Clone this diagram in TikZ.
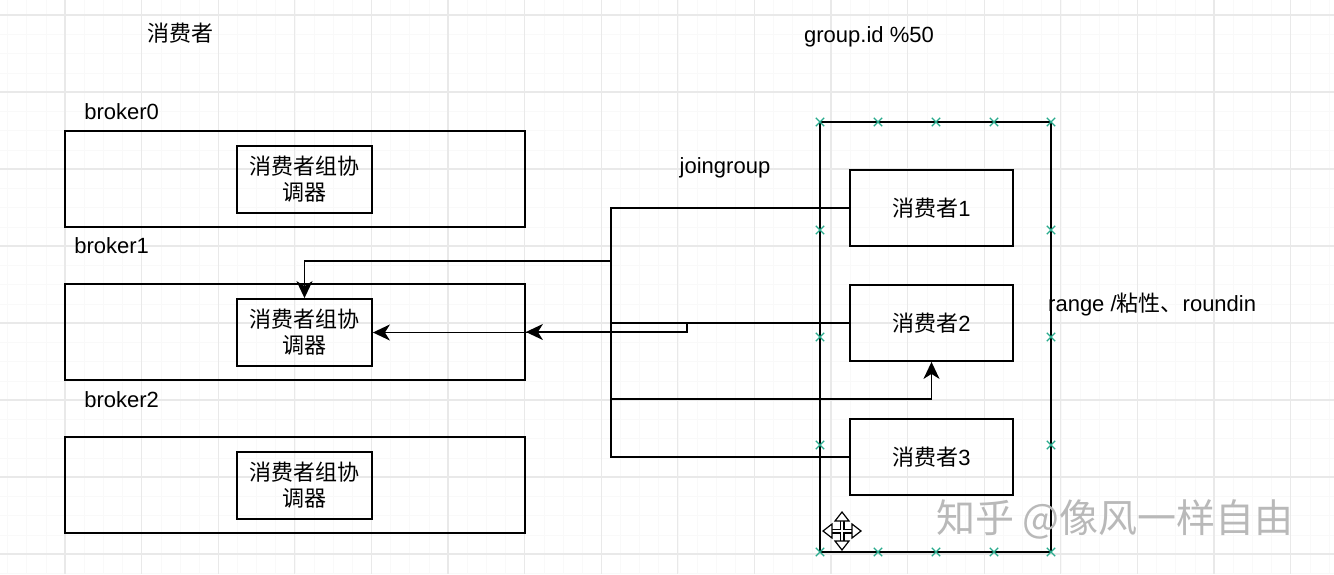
\documentclass[tikz,border=0pt]{standalone}
\usepackage{fontspec}
\setmainfont{Liberation Sans}
\newfontfamily\cjk{Noto Sans CJK SC}
\usepackage{tikz}
\usetikzlibrary{positioning,arrows.meta,shapes.misc}
\definecolor{handlegreen}{RGB}{40,170,140}

\begin{document}
\begin{tikzpicture}[x=1pt, y=-1pt, > = {Stealth[length=17pt,width=16pt,inset=5pt]},
  every node/.style={font=\fontsize{22}{26}\selectfont},
  box/.style={draw, line width=1.8pt, inner sep=0pt},
  lbl/.style={inner sep=0pt},
  wire/.style={line width=1.8pt},
  handle/.style={cross out, draw=handlegreen, line width=1.3pt, minimum size=7pt, inner sep=0pt}]
\useasboundingbox (0,0) rectangle (1334,574);
\fill[white] (0,0) rectangle (1334,574);
\foreach \i in {-4,...,66} \draw[gray!5, line width=0.5pt] ({65+19.15*\i},0) -- ({65+19.15*\i},574);
\foreach \i in {0,...,30} \draw[gray!5, line width=0.5pt] (0,{15+19.25*\i}) -- (1334,{15+19.25*\i});
\foreach \i in {-1,...,16} \draw[gray!17, line width=1.2pt] ({65+76.6*\i},0) -- ({65+76.6*\i},574);
\foreach \i in {0,...,7} \draw[gray!17, line width=1.2pt] (0,{15+77*\i}) -- (1334,{15+77*\i});

\node (title) [lbl] at (180,33) {\cjk 消费者};
\node (gid) [lbl] at (869,37) {group.id \%50};

\node (broker0) [box, minimum width=460pt, minimum height=96pt] at (295,179) {};
\node (broker1) [box, minimum width=460pt, minimum height=96pt] at (295,332) {};
\node (broker2) [box, minimum width=460pt, minimum height=96pt] at (295,485) {};
\node (lb0) [lbl, above right=10pt and 20pt of broker0.north west] {broker0};
\node (lb1) [lbl, above right=29pt and 10pt of broker1.north west] {broker1};
\node (lb2) [lbl, above right=28pt and 20pt of broker2.north west] {broker2};

\node (coord0) [box, minimum width=135pt, minimum height=67pt, align=center] at (304.5,179.5) {\cjk 消费者组协\\\cjk 调器};
\node (coord1) [box, minimum width=135pt, minimum height=67pt, align=center] at (304.5,332.5) {\cjk 消费者组协\\\cjk 调器};
\node (coord2) [box, minimum width=135pt, minimum height=67pt, align=center] at (304.5,485.5) {\cjk 消费者组协\\\cjk 调器};

\node (group) [box, minimum width=231pt, minimum height=430pt] at (935.5,337) {};
\node (c1) [box, minimum width=163pt, minimum height=76pt] at (931.5,208) {{\cjk 消费者}1};
\node (c2) [box, minimum width=163pt, minimum height=76pt] at (931.5,323) {{\cjk 消费者}2};
\node (c3) [box, minimum width=163pt, minimum height=76pt] at (931.5,457) {{\cjk 消费者}3};

\node (join) [lbl] at (725,168) {joingroup};
\node (assign) [lbl, anchor=west] at (1048,305) {range /{\cjk 粘性、}roundin};

\foreach \x in {820,878,936,994,1051} {
  \node [handle] at (\x,122) {};
  \node [handle] at (\x,552) {};
}
\foreach \y in {230,337,445} {
  \node [handle] at (820,\y) {};
  \node [handle] at (1051,\y) {};
}

\coordinate (j1) at (611,208);
\coordinate (j2) at (611,261);
\coordinate (j4) at (611,323);
\coordinate (j5) at (611,399);
\coordinate (j3) at (611,457);
\coordinate (k1) at (687,323);

\draw[wire] (c1.west) -- (j1) -- (j3) -- (c3.west);
\draw[wire] (c2.west) -- (j4);
\draw[wire,->] (j2) -| (coord1.north);
\draw[wire,->] (k1) |- (broker1.east);
\draw[wire,->] (k1) |- (coord1.east);
\draw[wire,->] (j5) -| (c2.south);

% move cursor
\draw[line width=5pt] (827,531) -- (857,531) (842,516) -- (842,546);
\draw[white, line width=2.4pt] (827,531) -- (857,531) (842,516) -- (842,546);
\draw[fill=white, line width=1.2pt] (842,512) -- (835,521) -- (849,521) -- cycle;
\draw[fill=white, line width=1.2pt] (842,550) -- (835,541) -- (849,541) -- cycle;
\draw[fill=white, line width=1.2pt] (823,531) -- (832,524) -- (832,538) -- cycle;
\draw[fill=white, line width=1.2pt] (861,531) -- (852,524) -- (852,538) -- cycle;

\node (mark) [lbl, text=gray!55, font=\fontsize{39}{44}\selectfont\cjk] at (1115,519) {知乎 @像风一样自由};
\end{tikzpicture}
\end{document}
